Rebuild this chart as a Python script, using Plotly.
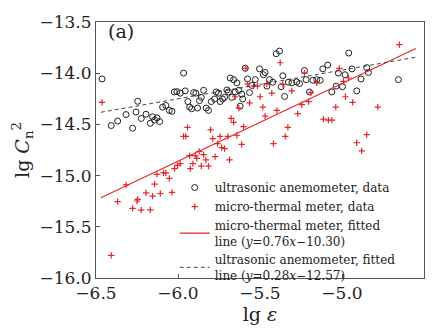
import plotly.graph_objects as go

# ultrasonic anemometer data (lg eps, lg Cn2)
ua_x = [-6.463,-6.407,-6.368,-6.317,-6.277,-6.256,-6.246,-6.224,-6.195,-6.169,-6.155,-6.143,-6.128,-6.112,
        -6.094,-6.074,-6.053,-6.037,-6.023,-6.007,-5.986,-5.966,-5.956,-5.940,-5.929,-5.917,-5.905,-5.891,
        -5.881,-5.869,-5.858,-5.844,-5.828,-5.814,-5.797,-5.777,-5.767,-5.753,-5.743,-5.728,-5.716,-5.702,
        -5.692,-5.682,-5.672,-5.661,-5.651,-5.641,-5.629,-5.621,-5.611,-5.605,-5.590,-5.576,-5.564,-5.550,
        -5.529,-5.503,-5.479,-5.469,-5.458,-5.442,-5.422,-5.401,-5.381,-5.371,-5.361,-5.350,-5.327,-5.306,
        -5.276,-5.259,-5.229,-5.219,-5.198,-5.178,-5.154,-5.133,-5.117,-5.087,-5.062,-5.036,-5.022,-4.997,
        -4.981,-4.959,-4.939,-4.910,-4.884,-4.849,-4.839,-4.656]
ua_y = [-14.056,-14.511,-14.467,-14.404,-14.537,-14.379,-14.274,-14.442,-14.401,-14.489,-14.426,-14.458,-14.436,-14.473,
        -14.331,-14.315,-14.363,-14.372,-14.183,-14.180,-14.195,-13.999,-14.173,-14.277,-14.331,-14.347,-14.189,-14.195,
        -14.340,-14.268,-14.236,-14.167,-14.340,-14.363,-14.277,-14.252,-14.183,-14.195,-14.277,-14.252,-14.236,-14.164,
        -14.183,-14.047,-14.236,-14.063,-14.183,-14.094,-14.167,-14.322,-14.205,-14.252,-13.952,-14.056,-14.189,-14.119,
        -14.063,-13.958,-14.015,-13.993,-14.126,-14.063,-14.088,-13.810,-13.784,-14.132,-14.025,-14.227,-14.088,-14.094,
        -14.085,-14.101,-13.974,-14.063,-14.183,-14.069,-14.063,-14.069,-13.958,-13.920,-14.183,-14.126,-13.999,-14.132,
        -14.015,-13.803,-13.958,-14.173,-14.056,-13.946,-13.993,-14.063]

# micro-thermal meter data
mt_x = [-6.463,-6.407,-6.368,-6.317,-6.277,-6.250,-6.246,-6.224,-6.195,-6.169,-6.155,-6.143,-6.128,-6.108,
        -6.088,-6.074,-6.053,-6.037,-6.021,-6.003,-5.986,-5.966,-5.952,-5.942,-5.929,-5.925,-5.909,-5.895,
        -5.885,-5.871,-5.858,-5.844,-5.830,-5.814,-5.801,-5.788,-5.774,-5.759,-5.743,-5.734,-5.716,-5.696,
        -5.686,-5.676,-5.661,-5.651,-5.641,-5.629,-5.612,-5.600,-5.586,-5.576,-5.564,-5.539,-5.515,-5.499,
        -5.483,-5.469,-5.458,-5.428,-5.418,-5.397,-5.377,-5.361,-5.346,-5.330,-5.306,-5.270,-5.245,-5.229,
        -5.204,-5.190,-5.154,-5.113,-5.083,-5.062,-5.038,-5.016,-4.991,-4.979,-4.961,-4.935,-4.910,-4.880,
        -4.849,-4.782,-4.650]
mt_y = [-14.284,-15.779,-15.254,-15.090,-15.321,-15.248,-15.232,-15.337,-15.169,-15.334,-15.201,-15.084,-14.989,-15.175,
        -14.973,-14.973,-15.027,-15.163,-14.932,-14.900,-14.884,-14.616,-14.616,-14.530,-14.805,-14.932,-14.884,-14.805,
        -14.831,-14.764,-14.907,-14.796,-14.846,-14.907,-14.553,-14.638,-14.815,-14.688,-14.616,-14.726,-14.736,-14.616,
        -14.846,-14.442,-14.480,-14.230,-14.606,-14.341,-14.695,-14.521,-13.952,-14.104,-14.290,-14.126,-14.126,-14.230,
        -14.331,-14.420,-14.104,-14.195,-14.688,-14.363,-13.898,-14.110,-14.616,-14.530,-14.173,-14.395,-14.306,-13.999,
        -14.278,-14.189,-14.094,-14.448,-14.458,-14.458,-14.331,-13.952,-14.079,-14.230,-14.047,-14.284,-14.679,-14.758,
        -14.600,-14.331,-13.721]

# fitted lines: slope, intercept, x-range
mt_fit = (0.76, -10.30)
ua_fit = (0.28, -12.57)
fit_x_range = [-6.47, -4.55]

x_ticks = [-6.5, -6.0, -5.5, -5.0, -4.5]
y_ticks = [-16.0, -15.5, -15.0, -14.5, -14.0, -13.5]

RED = "#e5262b"
FONT = "DejaVu Serif"

fig = go.Figure()
fig.add_trace(go.Scatter(x=ua_x, y=ua_y, mode="markers", name="ultrasonic anemometer, data",
                         marker=dict(symbol="circle-open", size=6, color="#222", line=dict(width=1, color="#222"))))
fig.add_trace(go.Scatter(x=mt_x, y=mt_y, mode="markers", name="micro-thermal meter, data",
                         marker=dict(symbol="cross-thin-open", size=4.5, color=RED, line=dict(width=1.2, color=RED))))
fig.add_trace(go.Scatter(x=fit_x_range, y=[mt_fit[0]*v + mt_fit[1] for v in fit_x_range], mode="lines",
                         name="micro-thermal meter, fitted<br>line (<i>y</i>=0.76<i>x</i>−10.30)",
                         line=dict(color=RED, width=1.1)))
fig.add_trace(go.Scatter(x=fit_x_range, y=[ua_fit[0]*v + ua_fit[1] for v in fit_x_range], mode="lines",
                         name="ultrasonic anemometer, fitted<br>line (<i>y</i>=0.28<i>x</i>−12.57)",
                         line=dict(color="#333", width=0.9, dash="4px,3px")))

axis_common = dict(showgrid=False, zeroline=False, showline=True, linecolor="#555", linewidth=1,
                   mirror=True, ticks="inside", ticklen=4, tickcolor="#555",
                   tickfont=dict(family=FONT, size=17, color="#222"))
fig.update_xaxes(range=[-6.5, -4.5], tickvals=x_ticks, ticktext=[f"−{abs(v):.1f}" for v in x_ticks],
                 title=dict(text="lg <i>ε</i>", font=dict(family=FONT, size=19, color="#222"), standoff=2),
                 **axis_common)
fig.update_yaxes(range=[-16.0, -13.5], tickvals=y_ticks, ticktext=[f"−{abs(v):.1f}" for v in y_ticks],
                 title=dict(text="lg <i>C</i><sub>n</sub><sup>2</sup>", font=dict(family=FONT, size=19, color="#222"), standoff=4),
                 **axis_common)

fig.add_annotation(x=0.03, y=1.015, xref="paper", yref="paper", text="(a)", showarrow=False,
                   xanchor="left", yanchor="top", font=dict(family=FONT, size=19, color="#222"))

fig.update_layout(width=443, height=331, margin=dict(l=96, r=19, t=17, b=50),
                  paper_bgcolor="white", plot_bgcolor="white", showlegend=True,
                  legend=dict(x=0.24, y=0.41, xanchor="left", yanchor="top", bgcolor="rgba(0,0,0,0)",
                              font=dict(family=FONT, size=12, color="#222"), tracegroupgap=0,
                              itemwidth=30))
fig.write_html("out.html")
